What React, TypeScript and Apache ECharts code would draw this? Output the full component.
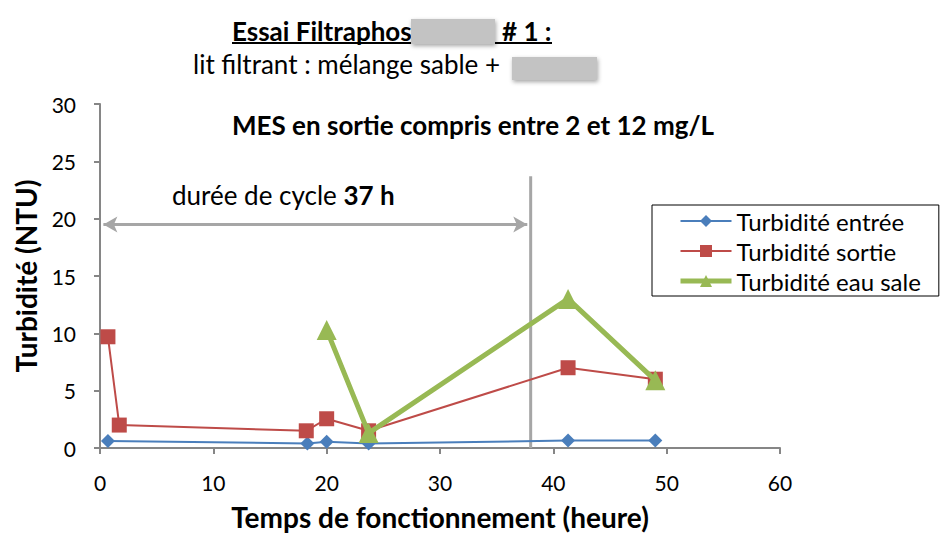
import React, { useEffect, useRef } from "react";
import * as echarts from "echarts";

const FONT = "Lato, 'Liberation Sans', sans-serif";

const entreeTime = [0.7, 18.3, 20.0, 23.7, 41.3, 49.0];
const entreeValues = [0.6, 0.4, 0.55, 0.4, 0.65, 0.65];

const sortieTime = [0.7, 1.7, 18.2, 20.0, 23.7, 41.3, 49.0];
const sortieValues = [9.7, 2.0, 1.5, 2.55, 1.5, 7.0, 6.0];

const eauSaleTime = [20.0, 23.7, 41.3, 49.0];
const eauSaleValues = [10.3, 1.3, 13.0, 5.9];

const seriesNames = ["Turbidité entrée", "Turbidité sortie", "Turbidité eau sale"];

const cycleLineX = 38;
const cycleLineTop = 23.7;
const arrowY = 19.5;
const arrowStart = 0.3;
const arrowEnd = 37.7;

const xTicks = [0, 10, 20, 30, 40, 50, 60];
const yTicks = [0, 5, 10, 15, 20, 25, 30];

function zip(xs: number[], ys: number[]) {
  return xs.map((x, i) => [x, ys[i]]);
}

const boxStyle = {
  fill: "#c3c3c3",
  shadowBlur: 4,
  shadowOffsetX: 1,
  shadowOffsetY: 2,
  shadowColor: "rgba(0,0,0,0.35)",
};

export default function App() {
  const ref = useRef<HTMLDivElement>(null);
  useEffect(() => {
    if (!ref.current) return;
    const chart = echarts.init(ref.current, undefined, { renderer: "svg" });
    chart.setOption({
      animation: false,
      backgroundColor: "#ffffff",
      grid: { left: 100, right: 160, top: 104, bottom: 87, containLabel: false, outerBoundsMode: "none" },
      xAxis: {
        type: "value",
        min: xTicks[0],
        max: xTicks[xTicks.length - 1],
        interval: 10,
        name: "Temps de fonctionnement (heure)",
        nameLocation: "middle",
        nameGap: 55,
        nameTextStyle: { fontFamily: FONT, fontSize: 28, fontWeight: "bold", color: "#000" },
        axisLine: { lineStyle: { color: "#868686", width: 2 } },
        axisTick: { show: true, length: 6, lineStyle: { color: "#868686", width: 2 } },
        axisLabel: { fontFamily: FONT, fontSize: 21, color: "#000", margin: 24 },
        splitLine: { show: false },
      },
      yAxis: {
        type: "value",
        min: yTicks[0],
        max: yTicks[yTicks.length - 1],
        interval: 5,
        name: "Turbidité (NTU)",
        nameLocation: "middle",
        nameGap: 60,
        nameRotate: 90,
        nameTextStyle: { fontFamily: FONT, fontSize: 28, fontWeight: "bold", color: "#000" },
        axisLine: { show: true, lineStyle: { color: "#868686", width: 2 } },
        axisTick: { show: true, length: 6, lineStyle: { color: "#868686", width: 2 } },
        axisLabel: { fontFamily: FONT, fontSize: 21, color: "#000", margin: 24 },
        splitLine: { show: false },
      },
      legend: {
        orient: "vertical",
        left: 652,
        top: 205,
        data: [
          { name: seriesNames[0], lineStyle: { width: 2 } },
          { name: seriesNames[1], lineStyle: { width: 2 } },
          { name: seriesNames[2], lineStyle: { width: 5 } },
        ],
        borderColor: "#000",
        borderWidth: 1,
        padding: [4, 18, 3, 26],
        itemGap: 6,
        itemWidth: 51,
        itemHeight: 15,
        textStyle: { fontFamily: FONT, fontSize: 24, color: "#000", lineHeight: 24 },
      },
      series: [
        {
          name: seriesNames[0],
          type: "line",
          data: zip(entreeTime, entreeValues),
          symbol: "diamond",
          symbolSize: 14,
          lineStyle: { color: "#4a7ebb", width: 2 },
          itemStyle: { color: "#4a7ebb" },
          z: 3,
        },
        {
          name: seriesNames[1],
          type: "line",
          data: zip(sortieTime, sortieValues),
          symbol: "rect",
          symbolSize: 15,
          lineStyle: { color: "#be4b48", width: 2 },
          itemStyle: { color: "#be4b48" },
          z: 4,
        },
        {
          name: seriesNames[2],
          type: "line",
          data: zip(eauSaleTime, eauSaleValues),
          symbol: "triangle",
          symbolSize: 20,
          lineStyle: { color: "#98b954", width: 5 },
          itemStyle: { color: "#98b954" },
          z: 5,
        },
        {
          name: "cycle",
          type: "line",
          data: [[cycleLineX, 0], [cycleLineX, cycleLineTop]],
          symbol: "none",
          lineStyle: { color: "#a6a6a6", width: 3 },
          z: 2,
          silent: true,
          markLine: {
            silent: true,
            symbol: ["arrow", "arrow"],
            symbolSize: [12, 14],
            label: { show: false },
            lineStyle: { color: "#a6a6a6", width: 3, type: "solid" },
            data: [[{ coord: [arrowStart, arrowY] }, { coord: [arrowEnd, arrowY] }]],
          },
        },
      ],
      graphic: [
        {
          type: "text",
          x: 232,
          y: 31,
          style: { text: "Essai Filtraphos", font: `bold 26px ${FONT}`, fill: "#000", verticalAlign: "middle" },
        },
        {
          type: "text",
          x: 502,
          y: 31,
          style: { text: "# 1 :", font: `bold 26px ${FONT}`, fill: "#000", verticalAlign: "middle" },
        },
        {
          type: "line",
          shape: { x1: 232, y1: 43, x2: 552, y2: 43 },
          style: { stroke: "#000", lineWidth: 2 },
        },
        {
          type: "rect",
          shape: { x: 411, y: 19, width: 84, height: 25 },
          style: boxStyle,
          z: 10,
        },
        {
          type: "text",
          x: 193,
          y: 64,
          style: { text: "lit filtrant : mélange sable + ", font: `26px ${FONT}`, fill: "#000", verticalAlign: "middle" },
        },
        {
          type: "rect",
          shape: { x: 512, y: 57, width: 85, height: 23 },
          style: boxStyle,
          z: 10,
        },
        {
          type: "text",
          x: 232,
          y: 125,
          style: { text: "MES en sortie compris entre 2 et 12 mg/L", font: `bold 26px ${FONT}`, fill: "#000", verticalAlign: "middle" },
        },
        {
          type: "text",
          x: 172,
          y: 195,
          style: {
            text: "{n|durée de cycle }{b|37 h}",
            verticalAlign: "middle",
            rich: {
              n: { font: `26px ${FONT}`, fill: "#000" },
              b: { font: `bold 26px ${FONT}`, fill: "#000" },
            },
          },
        },
      ],
    });
    return () => chart.dispose();
  }, []);
  return <div ref={ref} style={{ width: 940, height: 535, position: "absolute", left: 0, top: 0 }} />;
}
